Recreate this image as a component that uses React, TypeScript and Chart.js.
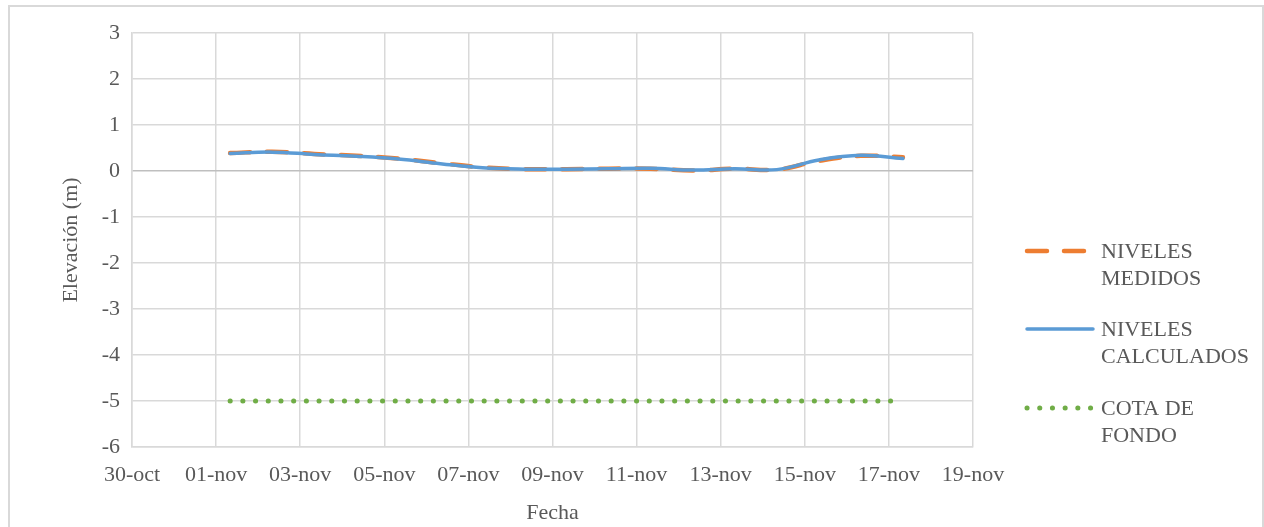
import { useEffect, useRef } from 'react';
import { Chart, registerables } from 'chart.js';

Chart.register(...registerables);

// Origen del eje de fechas: 30-oct
const ORIGEN = Date.UTC(2019, 9, 30);

const fechas = [
  '2019-11-01T08:00', '2019-11-02T08:00', '2019-11-03T08:00', '2019-11-04T08:00',
  '2019-11-05T08:00', '2019-11-06T08:00', '2019-11-07T08:00', '2019-11-08T08:00',
  '2019-11-09T08:00', '2019-11-10T08:00', '2019-11-11T08:00', '2019-11-12T08:00',
  '2019-11-13T08:00', '2019-11-14T08:00', '2019-11-15T08:00', '2019-11-16T08:00',
  '2019-11-17T08:00',
];

const nivelesMedidos = [
  0.39, 0.42, 0.37, 0.33, 0.27, 0.17, 0.08, 0.04, 0.04,
  0.05, 0.05, 0.01, 0.05, 0.03, 0.22, 0.33, 0.30,
];

const nivelesCalculados = [
  0.38, 0.41, 0.36, 0.32, 0.26, 0.16, 0.07, 0.04, 0.04,
  0.05, 0.06, 0.02, 0.05, 0.03, 0.24, 0.34, 0.27,
];

const cotaFondo = [
  -5, -5, -5, -5, -5, -5, -5, -5, -5,
  -5, -5, -5, -5, -5, -5, -5, -5,
];

const etiquetasFecha = [
  '30-oct', '01-nov', '03-nov', '05-nov', '07-nov', '09-nov',
  '11-nov', '13-nov', '15-nov', '17-nov', '19-nov',
];

const nombresSeries = [['NIVELES', 'MEDIDOS'], ['NIVELES', 'CALCULADOS'], ['COTA DE', 'FONDO']];

const FUENTE = '"Liberation Serif", "Times New Roman", serif';
const GRIS_TEXTO = '#595959';
const NARANJA = '#ED7D31';
const AZUL = '#5B9BD5';
const VERDE = '#70AD47';

const dias = fechas.map((f) => (Date.parse(f + ':00Z') - ORIGEN) / 86400000);
const puntos = (valores: number[]) => valores.map((y, i) => ({ x: dias[i], y }));

// Leyenda a la derecha con etiquetas en dos líneas
const leyendaDerecha = {
  id: 'leyendaDerecha',
  afterDraw(chart: Chart) {
    const ctx = chart.ctx;
    const area = chart.chartArea;
    const x0 = area.right + 52;
    const x1 = x0 + 68;
    const tx = x1 + 8;
    const ys = [244, 322, 401];
    const estilos = [
      { color: NARANJA, dash: [20, 17], width: 4.5 },
      { color: AZUL, dash: [], width: 3.5 },
      { color: VERDE, dash: [0.1, 12.6], width: 5 },
    ];
    ctx.save();
    ys.forEach((y, i) => {
      const e = estilos[i];
      ctx.beginPath();
      ctx.strokeStyle = e.color;
      ctx.lineWidth = e.width;
      ctx.lineCap = 'round';
      ctx.setLineDash(e.dash);
      ctx.moveTo(x0 + 2, y);
      ctx.lineTo(x1, y);
      ctx.stroke();
      ctx.setLineDash([]);
      ctx.fillStyle = GRIS_TEXTO;
      ctx.font = `22px ${FUENTE}`;
      ctx.textAlign = 'left';
      ctx.textBaseline = 'middle';
      nombresSeries[i].forEach((linea, j) => ctx.fillText(linea, tx, y + 1 + j * 27));
    });
    ctx.restore();
  },
};

export default function App() {
  const canvasRef = useRef<HTMLCanvasElement | null>(null);

  useEffect(() => {
    if (!canvasRef.current) return;
    const chart = new Chart(canvasRef.current, {
      type: 'line',
      data: {
        datasets: [
          {
            label: nombresSeries[0].join(' '),
            data: puntos(nivelesMedidos),
            borderColor: NARANJA,
            borderWidth: 4.5,
            borderDash: [20, 17],
            borderCapStyle: 'round',
            tension: 0.4,
            pointRadius: 0,
            order: 2,
          },
          {
            label: nombresSeries[1].join(' '),
            data: puntos(nivelesCalculados),
            borderColor: AZUL,
            borderWidth: 3.5,
            borderCapStyle: 'round',
            tension: 0.4,
            pointRadius: 0,
            order: 1,
          },
          {
            label: nombresSeries[2].join(' '),
            data: puntos(cotaFondo),
            borderColor: VERDE,
            borderWidth: 5,
            borderDash: [0.1, 12.6],
            borderCapStyle: 'round',
            pointRadius: 0,
            order: 3,
          },
        ],
      },
      options: {
        animation: false,
        responsive: true,
        maintainAspectRatio: false,
        layout: { padding: { left: 44, right: 289, top: 26, bottom: 13 } },
        plugins: { legend: { display: false }, tooltip: { enabled: false } },
        scales: {
          x: {
            type: 'linear',
            min: 0,
            max: 20,
            ticks: {
              stepSize: 2,
              padding: 15,
              color: GRIS_TEXTO,
              font: { family: FUENTE, size: 22 },
              maxRotation: 0,
              autoSkip: false,
              callback: (v) => etiquetasFecha[Math.round(Number(v) / 2)] ?? '',
            },
            grid: { color: '#d9d9d9', lineWidth: 1.5, drawTicks: false },
            border: { color: '#d9d9d9', width: 1.5 },
            title: {
              display: true,
              text: 'Fecha',
              color: GRIS_TEXTO,
              font: { family: FUENTE, size: 22 },
            },
            afterFit: (s) => {
              s.height = 83;
            },
          },
          y: {
            min: -6,
            max: 3,
            ticks: {
              stepSize: 1,
              padding: 12,
              color: GRIS_TEXTO,
              font: { family: FUENTE, size: 22 },
            },
            grid: {
              color: (c) => (c.tick && c.tick.value === 0 ? '#bfbfbf' : '#d9d9d9'),
              lineWidth: 1.5,
              drawTicks: false,
            },
            border: { color: '#d9d9d9', width: 1.5 },
            title: {
              display: true,
              text: 'Elevación (m)',
              color: GRIS_TEXTO,
              font: { family: FUENTE, size: 22 },
            },
            afterFit: (s) => {
              s.width = 78;
            },
          },
        },
      },
      plugins: [leyendaDerecha],
    });
    return () => chart.destroy();
  }, []);

  return (
    <div
      style={{
        position: 'fixed',
        left: 8,
        top: 5,
        width: 1256,
        height: 540,
        border: '2px solid #d9d9d9',
        boxSizing: 'border-box',
        background: '#fff',
      }}
    >
      <canvas ref={canvasRef} />
    </div>
  );
}
